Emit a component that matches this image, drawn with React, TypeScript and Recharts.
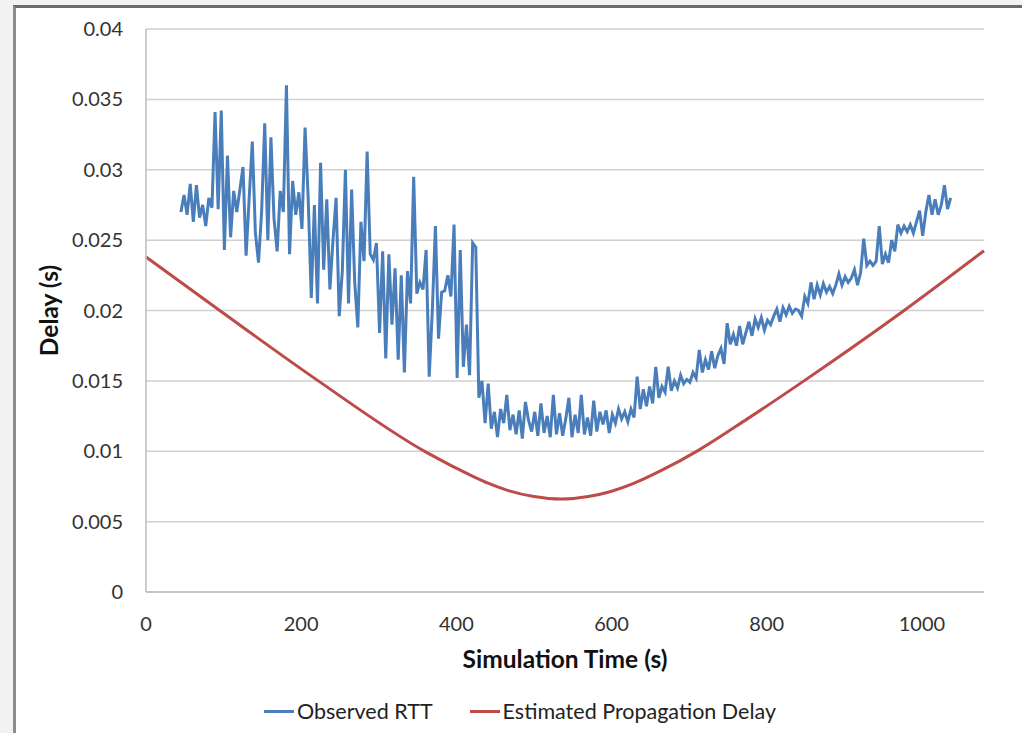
import { LineChart, Line, XAxis, YAxis, CartesianGrid, Legend } from 'recharts';

const FONT = 'Lato, "Open Sans", sans-serif';

// observed RTT, sampled every 4 s starting at t = 45 s (values in ms)
const RTT_START = 45;
const RTT_STEP = 4;
const observedRttMs = [
  27.0, 28.2, 26.8, 29.0, 26.3, 28.9, 26.6, 27.5, 26.0, 28.0, 27.3,
  34.1, 27.2, 34.2, 24.3, 31.0, 25.2, 28.5, 27.0, 28.6, 30.2, 23.9,
  28.0, 32.0, 25.5, 23.4, 27.0, 33.3, 25.0, 32.3, 26.5, 24.2, 28.5,
  27.0, 36.0, 24.0, 29.2, 26.8, 28.4, 25.8, 33.0, 28.0, 20.9, 27.5,
  20.5, 30.5, 22.9, 27.9, 21.5, 25.0, 28.0, 19.6, 22.8, 30.0, 20.5,
  28.6, 22.0, 18.8, 26.3, 23.5, 31.3, 24.0, 23.6, 24.8, 18.4, 24.2,
  16.6, 24.0, 19.0, 23.0, 16.5, 22.5, 15.6, 22.8, 20.5, 29.5, 21.2,
  22.0, 21.5, 24.3, 15.3, 20.0, 26.0, 18.0, 21.3, 21.4, 22.5, 21.0,
  26.1, 15.2, 24.3, 16.0, 19.0, 15.4, 24.8, 24.5, 13.8,
  15.0, 12.0, 14.8, 11.6, 12.8, 11.0, 13.0, 12.0, 14.0, 11.5, 12.6,
  11.2, 12.9, 10.9, 13.5, 12.2, 11.4, 12.8, 11.1, 13.4, 11.3, 12.5,
  11.0, 14.0, 11.2, 12.7, 11.1, 12.3, 13.8, 11.0, 12.6, 11.3, 14.0,
  11.2, 12.4, 11.1, 13.6, 11.4, 12.8, 11.9, 12.9, 11.3, 12.6, 12.0,
  13.0, 12.3, 12.8, 12.1, 13.0, 12.4, 15.3, 13.0, 14.4, 13.2, 14.6,
  13.4, 16.0, 13.8, 14.6, 14.2, 16.0, 14.3, 15.0, 14.5, 15.4, 14.8,
  15.1, 14.9, 15.6, 15.2, 17.2, 15.6, 16.5, 15.8, 17.1, 15.9, 16.8,
  17.3, 16.2, 19.1, 17.6, 18.3, 17.5, 18.9, 17.6, 18.4, 19.2, 18.2,
  19.4, 18.8, 19.5, 18.6, 19.3, 19.0, 19.6, 20.1, 19.2, 20.2, 19.7,
  20.3, 19.8, 20.1, 20.0, 19.6, 21.0, 20.5, 22.0, 20.8, 21.8, 21.1,
  21.9, 21.3, 21.7, 21.2, 21.8, 22.6, 21.8, 22.4, 22.0, 22.3, 22.9,
  21.8, 22.7, 25.1, 23.2, 23.5, 23.2, 23.5, 26.0, 23.3, 24.0, 23.4,
  25.0, 24.2, 26.1, 25.5, 26.0, 25.6, 26.1, 25.5, 26.3, 27.1, 25.3,
  27.0, 28.2, 26.8, 27.9, 26.8, 27.5, 28.9, 27.2, 28.0,
];

// estimated propagation delay (s) at read-off times
const propTimes = [0, 95, 222, 362, 422, 440, 465, 500, 535, 570, 599, 630, 663, 713, 775, 848, 977, 1080];
const propDelay = [0.0238, 0.02, 0.015, 0.0099, 0.0082, 0.00775, 0.00724, 0.00678, 0.0066, 0.00678, 0.00714, 0.00775, 0.0086, 0.0101, 0.0123, 0.015, 0.02, 0.02425];

const xTicks = [0, 200, 400, 600, 800, 1000];
const yTicks = [0, 0.005, 0.01, 0.015, 0.02, 0.025, 0.03, 0.035, 0.04];

const seriesNames = ['Observed RTT', 'Estimated Propagation Delay'];
const seriesColors = ['#4a7ebb', '#be4b48'];

const rttData = observedRttMs.map((v, i) => ({ t: RTT_START + i * RTT_STEP, rtt: v / 1000 }));
const propData = propTimes.map((t, i) => ({ t, prop: propDelay[i] }));

const renderLegend = () => (
  <div style={{ display: 'flex', justifyContent: 'center', gap: 37, fontFamily: FONT, fontSize: 21.5, color: '#222', lineHeight: '22px' }}>
    {seriesNames.map((name, i) => (
      <span key={name} style={{ display: 'flex', alignItems: 'center' }}>
        <span style={{ display: 'inline-block', width: 30, height: 3, background: seriesColors[i], marginRight: 3 }} />
        {name}
      </span>
    ))}
  </div>
);

const App = () => {
  return (
    <div style={{ position: 'absolute', left: 0, top: 0, width: 1022, height: 733, background: '#f2f2f2', overflow: 'hidden' }}>
      <div
        style={{
          position: 'absolute', left: 13, top: 5, width: 1009, height: 728, background: '#fff',
          borderLeft: '3px solid #8c8c8c', borderTop: '3px solid #6b6b6b', boxSizing: 'border-box',
        }}
      />
      <div style={{ position: 'absolute', left: 0, top: 0 }}>
        <LineChart width={1022} height={733} margin={{ top: 29, right: 38, bottom: 11, left: 0 }}>
          <CartesianGrid vertical={false} stroke="#d0d0d0" strokeWidth={1.5} />
          <XAxis
            dataKey="t"
            type="number"
            domain={[0, 1080]}
            ticks={xTicks}
            height={108}
            tickSize={0}
            tickMargin={25}
            axisLine={{ stroke: '#bdbdbd', strokeWidth: 1.5 }}
            tick={{ fontFamily: FONT, fontSize: 20, fill: '#333' }}
            label={(p: any) => (
              <text x={p.viewBox.x + p.viewBox.width / 2} y={p.viewBox.y + 76} textAnchor="middle"
                fontFamily={FONT} fontSize={24.5} fontWeight="bold" fill="#111">
                Simulation Time (s)
              </text>
            )}
          />
          <YAxis
            type="number"
            domain={[0, 0.04]}
            ticks={yTicks}
            width={146}
            tickSize={0}
            tickMargin={23}
            axisLine={{ stroke: '#bdbdbd', strokeWidth: 1.5 }}
            tick={{ fontFamily: FONT, fontSize: 20, fill: '#333' }}
            label={(p: any) => (
              <text x={58} y={p.viewBox.y + p.viewBox.height / 2} textAnchor="middle"
                transform={`rotate(-90, 58, ${p.viewBox.y + p.viewBox.height / 2})`}
                fontFamily={FONT} fontSize={24.5} fontWeight="bold" fill="#111">
                Delay (s)
              </text>
            )}
          />
          <Legend verticalAlign="bottom" content={renderLegend} wrapperStyle={{ left: 0, width: 1040, height: 22 }} />
          <Line data={rttData} dataKey="rtt" name={seriesNames[0]} type="linear" stroke={seriesColors[0]}
            strokeWidth={3} dot={false} isAnimationActive={false} />
          <Line data={propData} dataKey="prop" name={seriesNames[1]} type="monotone" stroke={seriesColors[1]}
            strokeWidth={3} dot={false} isAnimationActive={false} />
        </LineChart>
      </div>
    </div>
  );
};

export default App;
